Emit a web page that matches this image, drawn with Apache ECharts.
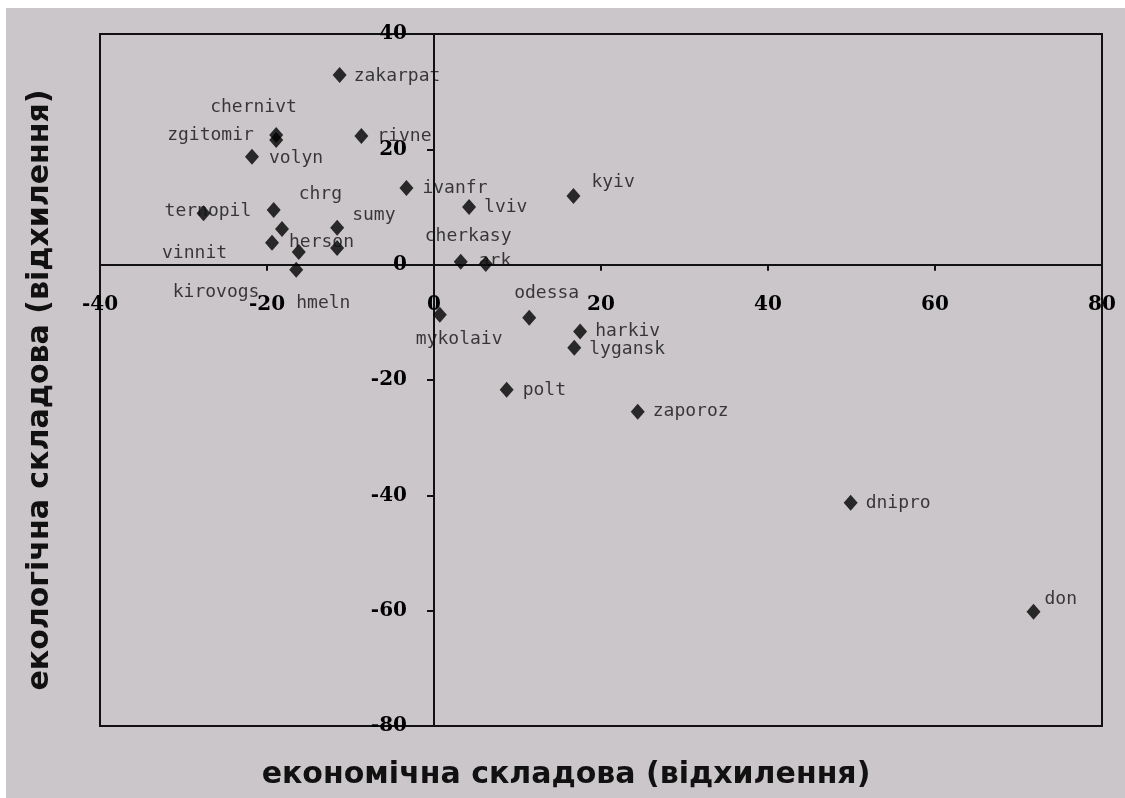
<!DOCTYPE html>
<html>
<head>
<meta charset="utf-8">
<script src="https://cdn.jsdelivr.net/npm/echarts@6/dist/echarts.min.js"></script>
<style>
  html, body { margin: 0; padding: 0; background: #ffffff; width: 1125px; height: 798px; overflow: hidden; }
  #c { position: absolute; left: 6px; top: 8px; width: 1119px; height: 790px; background: #cbc6ca; }
</style>
</head>
<body>
<div id="c"></div>
<script>
// Region names (one point carries no label in the original)
const regions = ['zakarpat','chernivt','zgitomir','rivne','volyn','ivanfr','lviv','kyiv',
  'ternopil','chrg','vinnit','herson','kirovogs','sumy','','hmeln','ark','cherkasy',
  'mykolaiv','odessa','harkiv','lygansk','polt','zaporoz','dnipro','don'];
// економічна складова (відхилення)
const economic = [-11.3,-18.9,-18.9,-8.7,-21.8,-3.3,4.2,16.7,
  -27.6,-19.2,-18.2,-19.4,-16.2,-11.6,-11.6,-16.5,3.2,6.2,
  0.7,11.4,17.5,16.8,8.7,24.4,49.9,71.8];
// екологічна складова (відхилення)
const ecological = [32.9,22.5,21.6,22.3,18.7,13.3,10.0,11.9,
  8.9,9.5,6.2,3.8,2.2,6.4,2.9,-0.9,0.5,0.1,
  -8.7,-9.2,-11.6,-14.4,-21.7,-25.5,-41.3,-60.2];
const xTicks = [-40,-20,0,20,40,60,80];
const yTicks = [-80,-60,-40,-20,0,20,40];

// label placement (pixel offsets of label's left/middle from the marker centre) – styling only
const labelOffsets = [[14,1],[-66,-28],[-109,-5],[16,0],[17,1],[16,0],[15,0],[18,-14],
  [-39,-2],[25,-16],[-120,24],[17,0],[-126,40],[15,-12],[0,0],[0,33],[18,0],[-61,-28],
  [-24,24],[-15,-24],[15,0],[15,2],[16,1],[15,0],[15,0],[11,-12]];

const points = regions.map((name, i) => ({
  name: name,
  value: [economic[i], ecological[i]],
  label: { offset: labelOffsets[i] }
}));

const GRID = { left: 94, right: 23, top: 26, bottom: 72 };
const chartEl = document.getElementById('c');
const chart = echarts.init(chartEl, null, { renderer: 'canvas' });
const axisFont = { fontFamily: 'DejaVu Serif', fontWeight: 'bold', fontSize: 20, color: '#000' };
chart.setOption({
  animation: false,
  backgroundColor: '#cbc6ca',
  grid: Object.assign({ show: true, borderColor: '#111', borderWidth: 2, backgroundColor: 'transparent' }, GRID),
  xAxis: {
    type: 'value', min: xTicks[0], max: xTicks[xTicks.length - 1], interval: 20,
    axisLine: { onZero: false, lineStyle: { color: '#111', width: 2 } },
    axisTick: { show: true, inside: false, length: 6, lineStyle: { color: '#111', width: 2 } },
    axisLabel: Object.assign({ margin: 30 }, axisFont),
    splitLine: { show: false }
  },
  yAxis: {
    type: 'value', min: yTicks[0], max: yTicks[yTicks.length - 1], interval: 20,
    axisLine: { onZero: false, lineStyle: { color: '#111', width: 2 } },
    axisTick: { show: true, inside: false, length: 7, lineStyle: { color: '#111', width: 2 } },
    axisLabel: Object.assign({ margin: 27 }, axisFont),
    splitLine: { show: false }
  },
  series: [{
    type: 'scatter',
    symbol: 'diamond',
    symbolSize: [14, 16],
    itemStyle: { color: '#000' },
    data: points,
    label: {
      show: true,
      position: 'inside',
      align: 'left',
      verticalAlign: 'middle',
      formatter: p => p.name,
      fontFamily: 'DejaVu Sans Mono',
      fontSize: 18,
      color: '#111'
    },
    z: 5
  }],
  graphic: [
    {
      type: 'text', x: 560, y: 767,
      style: { text: 'економічна складова (відхилення)', font: 'bold 30px "DejaVu Sans"', fill: '#111', textAlign: 'center', textVerticalAlign: 'middle' }
    },
    {
      type: 'text', x: 34, y: 382, rotation: Math.PI / 2,
      style: { text: 'екологічна складова (відхилення)', font: 'bold 30px "DejaVu Sans"', fill: '#111', textAlign: 'center', textVerticalAlign: 'middle' }
    }
  ]
});

// move both axes (line, ticks and labels) onto the zero crossing using the library's scales
const zeroY = chart.convertToPixel({ yAxisIndex: 0 }, 0);
const zeroX = chart.convertToPixel({ xAxisIndex: 0 }, 0);
const bottomEdge = chartEl.clientHeight - GRID.bottom;
chart.setOption({
  xAxis: { offset: zeroY - bottomEdge },
  yAxis: { offset: GRID.left - zeroX }
});
</script>
</body>
</html>
